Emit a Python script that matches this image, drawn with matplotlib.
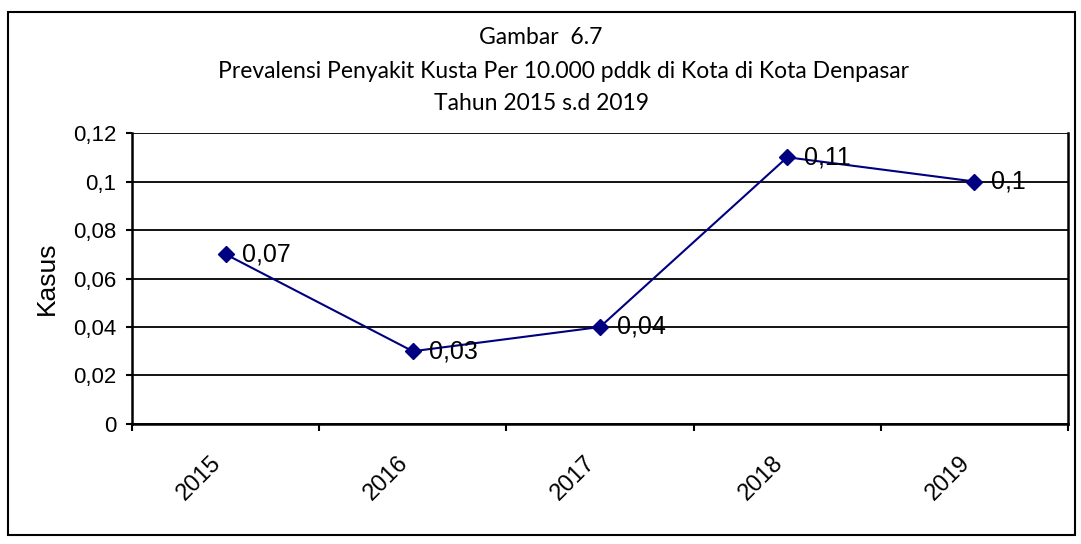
import matplotlib.pyplot as plt
from matplotlib.patches import Rectangle
from matplotlib.transforms import ScaledTranslation

# data prevalensi kusta per 10.000 penduduk
tahun = ["2015", "2016", "2017", "2018", "2019"]
prevalensi = [0.07, 0.03, 0.04, 0.11, 0.10]
label_nilai = ["0,07", "0,03", "0,04", "0,11", "0,1"]
ytick_vals = [0, 0.02, 0.04, 0.06, 0.08, 0.1, 0.12]
ytick_text = ["0", "0,02", "0,04", "0,06", "0,08", "0,1", "0,12"]

plt.rcParams['font.family'] = ['Liberation Sans', 'DejaVu Sans']

fig = plt.figure(figsize=(10.81, 5.44), dpi=100)
ax = fig.add_axes([0.1221, 0.2206, 0.8659, 0.5349])

# bingkai luar gambar
fig.patches.append(Rectangle((8 / 1081, 9 / 544), 1067 / 1081, 523 / 544,
                             transform=fig.transFigure, fill=False,
                             edgecolor="black", linewidth=1.5))

x = list(range(len(tahun)))
ax.plot(x, prevalensi, color="#000080", marker="D", markersize=8.5, linewidth=1.5, zorder=3)
for xi, yi, t in zip(x, prevalensi, label_nilai):
    ax.annotate(t, (xi, yi), xytext=(12, 0), textcoords="offset points",
                ha="left", va="center", fontsize=18, zorder=4)

ax.set_xlim(-0.5, 4.5)
ax.set_ylim(0, 0.12)
ax.set_yticks(ytick_vals)
ax.set_yticklabels(ytick_text, fontsize=16)
ax.set_xticks([i - 0.5 for i in range(len(tahun) + 1)])
ax.set_xticklabels([])
ax.set_xticks(x, minor=True)
ax.set_xticklabels(tahun, minor=True, rotation=45, ha="right", fontsize=17)
geser = ScaledTranslation(-9 / 100, 0, fig.dpi_scale_trans)
for lbl in ax.get_xticklabels(minor=True):
    lbl.set_transform(lbl.get_transform() + geser)
ax.tick_params(axis="x", which="minor", length=0, pad=20)
ax.tick_params(axis="x", which="major", direction="out", length=5, width=1.5)
ax.tick_params(axis="y", direction="out", length=4.5, width=1.5, pad=7)

ax.yaxis.grid(True, color="black", linewidth=1.3)
ax.set_axisbelow(True)
for s in ["left", "bottom", "right"]:
    ax.spines[s].set_linewidth(1.8)
ax.spines["top"].set_visible(False)

ax.set_ylabel("Kasus", fontsize=19, labelpad=10)

judul = ["Gambar  6.7",
         "Prevalensi Penyakit Kusta Per 10.000 pddk di Kota di Kota Denpasar",
         "Tahun 2015 s.d 2019"]
pusat_x = [541, 564, 542]
for i, baris in enumerate(judul):
    fig.text(pusat_x[i] / 1081, 1 - (38 + 33 * i) / 544, baris, ha="center", va="center",
             fontsize=16.5, family=["Lato", "DejaVu Sans"])

plt.savefig("out.png", dpi=100)
